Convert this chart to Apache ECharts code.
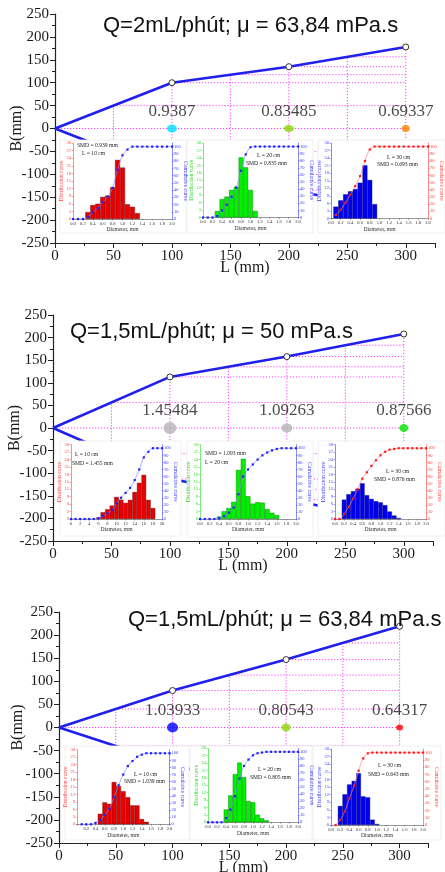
<!DOCTYPE html>
<html><head><meta charset="utf-8">
<script src="https://cdn.jsdelivr.net/npm/echarts@6/dist/echarts.min.js"></script>
<style>html,body{margin:0;padding:0;background:#fff}#c{width:445px;height:872px}</style>
</head><body><div id="c"></div>
<script>
// ================= DATA =================
const L_mm = [0, 100, 200, 300];
const B_p1 = [0, 100, 135, 178];
const B_p2 = [0, 113, 158, 208];
const B_p3 = [0, 80, 147, 219];
const titles = ['Q=2mL/phút; μ = 63,84 mPa.s', 'Q=1,5mL/phút; μ = 50 mPa.s', 'Q=1,5mL/phút; μ = 63,84 mPa.s'];
const dotX = [100, 200, 300];
const smd_p1 = ['0.9387', '0.83485', '0.69337'];
const smd_p2 = ['1.45484', '1.09263', '0.87566'];
const smd_p3 = ['1.03933', '0.80543', '0.64317'];
const dotColors_p1 = ['#00e0ff', '#88d800', '#ff8000'];
const dotColors_p2 = ['#b4b4b4', '#b4b4b4', '#00e600'];
const dotColors_p3 = ['#0000ff', '#88d800', '#ff0000'];
const mainTicksX = [0, 50, 100, 150, 200, 250, 300];
const guideX = [50, 100, 150, 200, 250, 300];

const diam = ['0.0','0.1','0.2','0.3','0.4','0.5','0.6','0.7','0.8','0.9','1.0','1.1','1.2','1.3','1.4','1.5','1.6','1.7','1.8','1.9','2.0'];
const diam20 = ['0','1','2','3','4','5','6','7','8','9','10','11','12','13','14','15','16','17','18','19','20'];

// distribution (%) and cumulative (%) per inset, indexed on the category lists above
const p1a_dist = [null,null,null,2.7,5.5,6.0,8.7,9.2,12.5,23.3,20.3,5.8,4.8,2.3,null,null,null,null,null,null,null];
const p1a_cum  = [0,0,0,3,9,15,23,31,43,68,88,96,100,100,100,100,100,100,100,100,100];
const p1b_dist = [null,null,null,2.6,7.4,8.4,11.1,12.4,24.2,20.2,11.1,2.6,null,null,null,null,null,null,null,null,null];
const p1b_cum  = [0,0,0,2,10,18,29,42,66,89,99,100,100,100,100,100,100,100,100,100,100];
const p1c_dist = [null,4.7,7.2,9.6,10.8,11.7,14.2,21.1,15.3,5.7,null,null,null,null,null,null,null,null,null,null,null];
const p1c_cum  = [null,5,12,22,33,45,59,80,96,100,100,100,100,100,100,100,100,100,100,100,100];

const p2a_dist = [null,null,null,null,null,null,0.6,2.7,3.9,5.4,8.9,7.8,6.5,7.7,10.9,14.6,17.8,7.7,4.4,null,null];
const p2a_cum  = [0,0,0,0,0,0,1,4,8,13,22,30,37,44,55,70,87,95,100,100,100];
const p2b_dist = [null,null,null,null,1.0,3.1,4.4,6.9,19.8,24.3,9.2,6.2,6.8,6.6,4.0,2.5,1.6,null,null,null,null];
const p2b_cum  = [0,0,0,0,1,4,9,16,35,60,70,77,84,90,94,97,99,100,100,100,100];
const p2c_dist = [null,null,7.8,10.0,11.2,12.2,14.4,9.6,8.1,7.2,6.7,5.6,3.0,1.4,0.4,null,null,null,null,null,null];
const p2c_cum  = [0,0,7,17,29,42,57,66,75,83,90,95,98,99,100,100,100,100,100,100,100];

const p3a_dist = [null,null,null,null,null,4.2,8.8,8.2,17.0,15.4,13.3,10.9,7.6,7.6,2.1,1.0,null,null,null,null,null];
const p3a_cum  = [null,0,0,0,2,6,13,22,38,55,70,82,89,95,98,100,100,100,100,100,100];
const p3b_dist = [null,null,null,null,5.2,10.9,19.5,24.2,18.3,8.6,8.1,3.1,1.6,0.8,null,null,null,null,null,null,null];
const p3b_cum  = [0,0,0,0,6,18,37,62,80,89,95,98,99,100,100,100,100,100,100,100,100];
const p3c_dist = [null,null,7.5,12.1,16.0,17.4,20.4,11.3,10.9,2.1,0.4,null,null,null,null,null,null,null,null,null,null];
const p3c_cum  = [null,0,7,19,37,54,75,92,99,100,100,100,100,100,100,100,100,100,100,100,100];

// ================= STYLE / LAYOUT =================
const SERIF = '"Liberation Serif", "Times New Roman", serif';
const SANS = '"Liberation Sans", Arial, sans-serif';
const RED = {bar:'#e80000', border:'#5a0000', axis:'#ff4040', line:'#ff8080', mark:'#ff1a1a'};
const GREEN = {bar:'#00f000', border:'#007000', axis:'#22dd22'};
const BLUE = {bar:'#0000f0', border:'#000070', axis:'#3b3bff', line:'#8a8aff', mark:'#2020ff'};

const panels = [
  {B:B_p1, smd:smd_p1, colors:dotColors_p1, sizes:[[10,8],[10,7],[8,7]],
   grid:{left:55, top:14, width:380, height:229}, title:[103,15], nameGap:30,
   insets:[
     {cats:diam, dist:p1a_dist, cum:p1a_cum, bar:RED, right:BLUE, plot:[73,143,172,219], box:[60,140,186,233],
      texts:[['SMD = 0.939 mm',77,146],['L = 10 cm',82,153.5]]},
     {cats:diam, dist:p1b_dist, cum:p1b_cum, bar:GREEN, right:BLUE, plot:[203,143,298,217.5], box:[187,140,313,233],
      texts:[['L = 20 cm',257,156],['SMD = 0.835 mm',246,163.5]]},
     {cats:diam, dist:p1c_dist, cum:p1c_cum, bar:BLUE, right:RED, plot:[331,143,428,218.5], box:[318,140,445,233],
      texts:[['L = 30 cm',387,158],['SMD = 0.693 mm',377,165]]}
   ]},
  {B:B_p2, smd:smd_p2, colors:dotColors_p2, sizes:[[13,12],[11,9],[9,8]],
   grid:{left:53, top:315, width:380, height:226}, title:[70,321], nameGap:30,
   insets:[
     {cats:diam20, dist:p2a_dist, cum:p2a_cum, bar:RED, right:BLUE, plot:[71,444.7,162,519], box:[60,441,181,536],
      texts:[['L = 10 cm',75,455],['SMD = 1.455 mm',72,463.5]]},
     {cats:diam, dist:p2b_dist, cum:p2b_cum, bar:GREEN, right:BLUE, plot:[200,444.7,296,519], box:[187,441,313,537],
      texts:[['SMD = 1.093 mm',205,453.5],['L = 20 cm',205,463]]},
     {cats:diam, dist:p2c_dist, cum:p2c_cum, bar:BLUE, right:RED, plot:[335,444.7,426,519], box:[318,441,445,536],
      texts:[['L = 30 cm',386,471.5],['SMD = 0.876 mm',374,479.5]]}
   ]},
  {B:B_p3, smd:smd_p3, colors:dotColors_p3, sizes:[[11,10],[9,8],[7,6]],
   grid:{left:59, top:612, width:369, height:231}, title:[128,609], nameGap:33,
   insets:[
     {cats:diam, dist:p3a_dist, cum:p3a_cum, bar:RED, right:BLUE, plot:[77,749.7,169.5,824.3], box:[65,746,189,840], hideFirst:true,
      texts:[['L = 10 cm',134,774.5],['SMD = 1.039 mm',124,782]]},
     {cats:diam, dist:p3b_dist, cum:p3b_cum, bar:GREEN, right:BLUE, plot:[208,748.3,298,822.3], box:[190,746,312,840],
      texts:[['L = 20 cm',258,769.5],['SMD = 0.805 mm',250,778]]},
     {cats:diam, dist:p3c_dist, cum:p3c_cum, bar:BLUE, right:RED, plot:[331,749,423,825], box:[313,746,441,840],
      texts:[['L = 30 cm',378,766],['SMD = 0.643 mm',368,774.5]]}
   ]}
];

function interp(xs, ys, x) {
  for (let i = 0; i < xs.length - 1; i++) {
    if (x >= xs[i] && x <= xs[i + 1]) return ys[i] + (ys[i + 1] - ys[i]) * (x - xs[i]) / (xs[i + 1] - xs[i]);
  }
  return ys[ys.length - 1];
}

const grid = [], xAxis = [], yAxis = [], series = [], graphic = [], title = [];
const axisDark = {color:'#222', width:1.2};

panels.forEach((p, pi) => {
  const gi = grid.length, mx = xAxis.length, my = yAxis.length;
  grid.push({left:p.grid.left, top:p.grid.top, width:p.grid.width, height:p.grid.height, outerBoundsMode:'none', containLabel:false});
  title.push({text: titles[pi], left:p.title[0], top:p.title[1], padding:0,
    textStyle:{fontFamily:SANS, fontSize:22, fontWeight:'normal', color:'#111'}});
  xAxis.push({gridIndex:gi, type:'value', min:0, max:325, interval:50,
    axisLine:{show:true, onZero:false, lineStyle:axisDark},
    axisTick:{show:true, length:5, lineStyle:{color:'#222'}},
    minorTick:{show:true, splitNumber:2, length:3, lineStyle:{color:'#222'}},
    splitLine:{show:false},
    axisLabel:{fontFamily:SERIF, fontSize:15, color:'#1a1a1a', margin:6,
      formatter: v => mainTicksX.indexOf(v) >= 0 ? String(v) : ''},
    name:'L (mm)', nameLocation:'middle', nameGap:17, nameMoveOverlap:false,
    nameTextStyle:{fontFamily:SERIF, fontSize:16, color:'#1a1a1a'}});
  yAxis.push({gridIndex:gi, type:'value', min:-250, max:250, interval:50,
    axisLine:{show:true, onZero:false, lineStyle:axisDark},
    axisTick:{show:true, length:5, lineStyle:{color:'#222'}},
    minorTick:{show:true, splitNumber:2, length:3, lineStyle:{color:'#222'}},
    splitLine:{show:false},
    axisLabel:{fontFamily:SERIF, fontSize:15, color:'#1a1a1a', margin:6},
    name:'B(mm)', nameLocation:'middle', nameGap:p.nameGap, nameMoveOverlap:false,
    nameTextStyle:{fontFamily:SERIF, fontSize:16, color:'#1a1a1a'}});

  // pink dotted guide grid under the curve (built from the curve data), segments separated by gaps
  const guide = [[0, 0], [300, 0], ['-', '-']];
  guideX.forEach(xk => {
    const top = interp(L_mm, p.B, xk);
    guide.push([xk, -top], [xk, top], ['-', '-']);
    if (xk < 300) guide.push([xk, top], [300, top], ['-', '-'], [xk, -top], [300, -top], ['-', '-']);
  });
  series.push({type:'line', xAxisIndex:mx, yAxisIndex:my, silent:true, z:1, symbol:'none', connectNulls:false,
    data: guide, lineStyle:{color:'#ff40ff', type:[1.2, 1.8], width:1}});

  series.push({type:'line', xAxisIndex:mx, yAxisIndex:my, z:3,
    data: L_mm.map((x, i) => i === 0 ? {value:[x, p.B[i]], symbol:'none'} : [x, p.B[i]]),
    lineStyle:{color:'#1f1fee', width:2.6}, symbol:'circle', symbolSize:6,
    itemStyle:{color:'#fff', borderColor:'#333', borderWidth:1}});
  series.push({type:'line', xAxisIndex:mx, yAxisIndex:my, z:3, symbol:'none',
    data: L_mm.map((x, i) => [x, -p.B[i]]),
    lineStyle:{color:'#1f1fee', width:2.6}});
  series.push({type:'scatter', xAxisIndex:mx, yAxisIndex:my, z:4,
    data: dotX.map((x, i) => ({name:p.smd[i], value:[x, 0], symbolSize:p.sizes[i], itemStyle:{color:p.colors[i]}})),
    label:{show:true, position:'inside', offset:[0, -17], formatter:'{b}', fontFamily:SERIF, fontSize:17, color:'#1a1a1a'}});

  // insets
  p.insets.forEach(ins => {
    const g = grid.length;
    const [l, t, r, b] = ins.plot;
    grid.push({left:l, top:t, width:r - l, height:b - t, z:11, outerBoundsMode:'none', containLabel:false});
    const xi = xAxis.length;
    xAxis.push({gridIndex:g, type:'category', data:ins.cats, boundaryGap:false, z:11,
      axisLine:{show:true, lineStyle:{color:'#555', width:0.6}},
      axisTick:{show:true, interval:1, length:1.5, lineStyle:{color:'#555', width:0.5}},
      axisLabel:{fontFamily:SERIF, fontSize:4.6, color:'#333', margin:2, interval:1,
        formatter:(v, i) => (ins.hideFirst && i === 0) ? '' : v},
      splitLine:{show:false},
      name:'Diameter, mm', nameLocation:'middle', nameGap:8, nameMoveOverlap:false,
      nameTextStyle:{fontFamily:SERIF, fontSize:5.6, color:'#333'}});
    const yl = yAxis.length;
    yAxis.push({gridIndex:g, type:'value', min:0, max:30, interval:3, z:11,
      axisLine:{show:true, lineStyle:{color:ins.bar.axis, width:0.6}},
      axisTick:{show:true, length:1.5, lineStyle:{color:ins.bar.axis, width:0.5}},
      axisLabel:{fontFamily:SERIF, fontSize:4.5, color:ins.bar.axis, margin:2},
      splitLine:{show:false},
      name:'Distribution curve', nameLocation:'middle', nameGap:8, nameMoveOverlap:false,
      nameTextStyle:{fontFamily:SERIF, fontSize:5.6, color:ins.bar.axis}});
    yAxis.push({gridIndex:g, type:'value', position:'right', min:0, max:105, interval:10, z:11,
      axisLine:{show:true, lineStyle:{color:ins.right.axis, width:0.6}},
      axisTick:{show:true, length:1.5, lineStyle:{color:ins.right.axis, width:0.5}},
      axisLabel:{fontFamily:SERIF, fontSize:4.5, color:ins.right.axis, margin:2, showMaxLabel:false},
      splitLine:{show:false},
      name:'Cumulative curve', nameLocation:'middle', nameGap:10, nameRotate:-90, nameMoveOverlap:false,
      nameTextStyle:{fontFamily:SERIF, fontSize:5.6, color:ins.right.axis}});
    series.push({type:'bar', xAxisIndex:xi, yAxisIndex:yl, z:12, data:ins.dist, barWidth:'100%',
      itemStyle:{color:ins.bar.bar, borderColor:ins.bar.border, borderWidth:0.4}});
    series.push({type:'line', xAxisIndex:xi, yAxisIndex:yl + 1, z:13, data:ins.cum, smooth:0.3,
      symbol:'rect', symbolSize:2.2, showAllSymbol:true,
      lineStyle:{color:ins.right.line, width:0.7},
      itemStyle:{color:ins.right.mark}});
    const [x0, y0, x1, y1] = ins.box;
    graphic.push({type:'rect', z:10, silent:true, shape:{x:x0, y:y0, width:x1 - x0, height:y1 - y0},
      style:{fill:'#ffffff', stroke:'#ececec', lineWidth:0.8}});
    ins.texts.forEach(tx => graphic.push({type:'text', z:20, silent:true, x:tx[1], y:tx[2],
      style:{text:tx[0], font:'5.6px "Liberation Serif"', fill:'#222', verticalAlign:'middle', align:'left'}}));
  });
});

const chart = echarts.init(document.getElementById('c'), null, {renderer:'canvas'});
chart.setOption({animation:false, backgroundColor:'#ffffff', title, grid, xAxis, yAxis, series, graphic});
</script>
</body></html>
